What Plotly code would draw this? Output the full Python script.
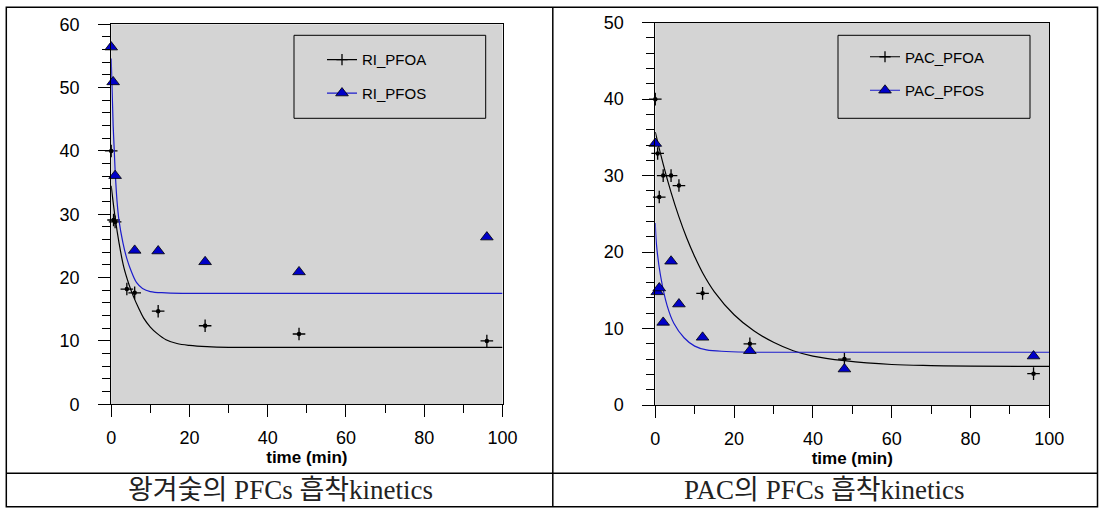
import plotly.graph_objects as go

# ---------------- data ----------------
# Left panel: 왕겨숯 (RI)
ri_pfoa_t = [0, 0.6, 1, 4, 6, 12, 24, 48, 96]
ri_pfoa_v = [40.0, 29.1, 28.8, 18.2, 17.6, 14.7, 12.4, 11.1, 10.0]
ri_pfos_t = [0, 0.5, 1, 6, 12, 24, 48, 96]
ri_pfos_v = [56.4, 50.9, 36.1, 24.3, 24.2, 22.5, 20.9, 26.4]
# fitted curves (sampled along the drawn curves)
ri_pfoa_fit_t = [0, 1, 2, 3.2, 4.5, 5.7, 7, 8.3, 10, 11.7, 14, 16.8, 20, 24.5, 30, 40, 100]
ri_pfoa_fit_v = [34.5, 29.5, 25.5, 21.7, 19.0, 17.0, 15.2, 13.6, 12.2, 11.2, 10.2, 9.6, 9.3, 9.1, 9.0, 9.0, 9.0]
ri_pfos_fit_t = [0, 0.5, 1, 1.5, 2, 3, 4, 5, 6.5, 8, 10, 14, 20, 100]
ri_pfos_fit_v = [54.6, 44.0, 37.0, 32.0, 29.0, 25.5, 23.0, 21.2, 19.2, 18.3, 17.8, 17.6, 17.5, 17.5]

# Right panel: PAC
pac_pfoa_t = [0, 0.6, 1, 2, 4, 6, 12, 24, 48, 96]
pac_pfoa_v = [40.0, 32.9, 27.2, 30.0, 30.0, 28.7, 14.6, 8.0, 6.0, 4.1]
pac_pfos_t = [0, 0.5, 1, 2, 4, 6, 12, 24, 48, 96]
pac_pfos_v = [34.2, 14.8, 15.3, 10.8, 18.8, 13.2, 8.85, 7.1, 4.7, 6.4]
pac_pfoa_fit_t = [0, 2, 4, 6, 8, 10, 12, 15, 20, 25, 30, 35, 40, 48, 60, 70, 80, 100]
pac_pfoa_fit_v = [35.7, 31.5, 27.8, 24.6, 21.8, 19.4, 17.3, 14.8, 11.8, 9.7, 8.2, 7.1, 6.4, 5.8, 5.3, 5.15, 5.08, 5.05]
pac_pfos_fit_t = [0, 0.3, 1.3, 3, 4.7, 7.3, 10, 13, 18, 25, 100]
pac_pfos_fit_v = [23.8, 21.0, 17.0, 13.0, 10.7, 8.8, 7.7, 7.2, 7.0, 6.9, 6.9]

x_ticks = [0, 20, 40, 60, 80, 100]
left_y_ticks = [0, 10, 20, 30, 40, 50, 60]
right_y_ticks = [0, 10, 20, 30, 40, 50]
x_title = "time (min)"
captions = ["왕겨숯의 PFCs 흡착kinetics", "PAC의 PFCs 흡착kinetics"]
legend_names = [["RI_PFOA", "RI_PFOS"], ["PAC_PFOA", "PAC_PFOS"]]

# ---------------- styling ----------------
W, H = 1102, 510
def px(x):
    return x / W
def py(y):
    return 1 - y / H

GRAY = "#d4d4d4"
BLUE_LINE = "#1c1ccc"
BLUE_FILL = "#0000c8"
SANS = "Liberation Sans, Arial, sans-serif"
SERIF = "Liberation Serif, Noto Sans CJK KR, serif"

fig = go.Figure()

def add_set(xa, ya, t, v, ft, fv, name, kind, legend):
    color = "black" if kind == "cross" else BLUE_LINE
    fig.add_trace(go.Scatter(x=ft, y=fv, mode="lines", xaxis=xa, yaxis=ya,
                             line=dict(color=color, width=1.2, shape="spline"),
                             showlegend=False, hoverinfo="skip"))
    if kind == "cross":
        mk = dict(symbol="cross-thin", size=9, color="black",
                  line=dict(color="black", width=1.3))
        fig.add_trace(go.Scatter(x=t, y=v, mode="markers", xaxis=xa, yaxis=ya,
                                 marker=mk, showlegend=False, cliponaxis=False))
        fig.add_trace(go.Scatter(x=t, y=v, mode="markers", xaxis=xa, yaxis=ya,
                                 marker=dict(symbol="circle", size=4.5, color="black"),
                                 showlegend=False, cliponaxis=False))
        lmk = dict(symbol="cross-thin", size=8, color="black",
                   line=dict(color="black", width=1.3))
    else:
        mk = dict(symbol="triangle-up", size=11, color=BLUE_FILL,
                  line=dict(color="black", width=0.8))
        fig.add_trace(go.Scatter(x=t, y=v, mode="markers", xaxis=xa, yaxis=ya,
                                 marker=mk, showlegend=False, cliponaxis=False))
        lmk = mk
    fig.add_trace(go.Scatter(x=[None], y=[None], mode="lines+markers", xaxis=xa, yaxis=ya,
                             name=name, legend=legend, legendgroup=name,
                             line=dict(color=color, width=1.2), marker=lmk))

add_set("x", "y", ri_pfoa_t, ri_pfoa_v, ri_pfoa_fit_t, ri_pfoa_fit_v, legend_names[0][0], "cross", "legend")
add_set("x", "y", ri_pfos_t, ri_pfos_v, ri_pfos_fit_t, ri_pfos_fit_v, legend_names[0][1], "tri", "legend")
add_set("x2", "y2", pac_pfoa_t, pac_pfoa_v, pac_pfoa_fit_t, pac_pfoa_fit_v, legend_names[1][0], "cross", "legend2")
add_set("x2", "y2", pac_pfos_t, pac_pfos_v, pac_pfos_fit_t, pac_pfos_fit_v, legend_names[1][1], "tri", "legend2")

def xaxis(domain, anchor):
    return dict(domain=domain, anchor=anchor, range=[0, 100], tickvals=x_ticks,
                showline=True, linecolor="black", linewidth=1, mirror=True,
                ticks="outside", ticklen=12, tickcolor="black", tickwidth=1,
                minor=dict(dtick=10, tick0=0, ticks="outside", ticklen=8, tickcolor="black"),
                showgrid=False, zeroline=False, automargin=False,
                tickfont=dict(family=SANS, size=18, color="black"), ticklabelstandoff=5,
                title=dict(text=x_title, standoff=0,
                           font=dict(family=SANS, size=17, color="black", weight="bold")))

def yaxis(domain, anchor, ymax, ticks):
    return dict(domain=domain, anchor=anchor, range=[0, ymax], tickvals=ticks,
                showline=True, linecolor="black", linewidth=1, mirror=True,
                ticks="outside", ticklen=12, tickcolor="black", tickwidth=1,
                minor=dict(dtick=2, tick0=0, ticks="outside", ticklen=8, tickcolor="black"),
                showgrid=False, zeroline=False, automargin=False,
                tickfont=dict(family=SANS, size=18, color="black"), ticklabelstandoff=15)

def legend(xl, yt):
    return dict(x=px(xl), y=py(yt), xanchor="left", yanchor="top",
                bgcolor="rgba(0,0,0,0)", borderwidth=0,
                font=dict(family=SANS, size=15, color="black"),
                traceorder="grouped", tracegroupgap=11)

shapes = [
    dict(type="rect", xref="paper", yref="paper", x0=px(6.3), x1=px(1097.5), y0=py(506.7), y1=py(7.3),
         line=dict(color="black", width=1.5)),
    dict(type="line", xref="paper", yref="paper", x0=px(6.3), x1=px(1097.5), y0=py(473.3), y1=py(473.3),
         line=dict(color="black", width=1.5)),
    dict(type="line", xref="paper", yref="paper", x0=px(552.8), x1=px(552.8), y0=py(506.7), y1=py(7.3),
         line=dict(color="black", width=1.5)),
    # legend frames
    dict(type="rect", xref="paper", yref="paper", x0=px(294), x1=px(485.7), y0=py(118.3), y1=py(35.3),
         line=dict(color="black", width=1)),
    dict(type="rect", xref="paper", yref="paper", x0=px(838), x1=px(1030), y0=py(118.3), y1=py(35.3),
         line=dict(color="black", width=1)),
]

annotations = [
    dict(text=captions[0], xref="paper", yref="paper", x=px(280.7), y=py(490), showarrow=False,
         xanchor="center", yanchor="middle", font=dict(family=SERIF, size=27, color="#222")),
    dict(text=captions[1], xref="paper", yref="paper", x=px(824.6), y=py(490), showarrow=False,
         xanchor="center", yanchor="middle", font=dict(family=SERIF, size=27, color="#222")),
]

fig.update_layout(
    width=W, height=H, autosize=False,
    margin=dict(l=0, r=0, t=0, b=0),
    paper_bgcolor="white", plot_bgcolor=GRAY,
    xaxis=xaxis([px(111.2), px(502.5)], "y"),
    yaxis=yaxis([py(404.3), py(24.3)], "x", 60, left_y_ticks),
    xaxis2=xaxis([px(655.3), px(1049.3)], "y2"),
    yaxis2=yaxis([py(405), py(22.7)], "x2", 50, right_y_ticks),
    legend=legend(322, 43.3),
    legend2=legend(865, 40.5),
    shapes=shapes, annotations=annotations,
    showlegend=True,
)

fig.write_html("out.html", config={"displayModeBar": False},
               post_script="document.body.style.margin='0px';")
